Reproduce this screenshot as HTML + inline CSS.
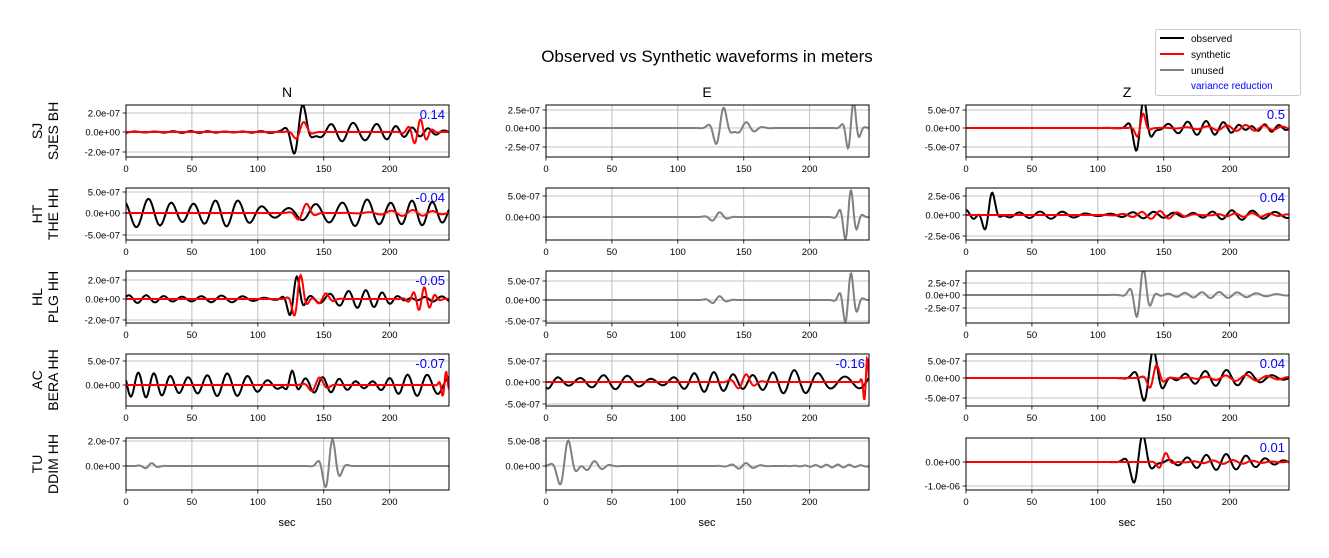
<!DOCTYPE html>
<html><head><meta charset="utf-8"><style>
body{margin:0;background:#fff;width:1329px;height:558px;overflow:hidden}
svg{display:block;font-family:"Liberation Sans","DejaVu Sans",sans-serif}
</style></head><body>
<svg id="s" width="1329" height="558" xmlns="http://www.w3.org/2000/svg">
<text x="707" y="62" font-size="17" text-anchor="middle">Observed vs Synthetic waveforms in meters</text>
<text x="287" y="97" font-size="14" text-anchor="middle">N</text>
<text x="707" y="97" font-size="14" text-anchor="middle">E</text>
<text x="1127" y="97" font-size="14" text-anchor="middle">Z</text>
<rect x="1155.5" y="29.5" width="145" height="66" rx="2" fill="#fff" stroke="#ccc"/>
<line x1="1160" y1="38" x2="1184" y2="38" stroke="#000" stroke-width="2"/>
<line x1="1160" y1="54" x2="1184" y2="54" stroke="#f00" stroke-width="2"/>
<line x1="1160" y1="70" x2="1184" y2="70" stroke="#808080" stroke-width="2"/>
<text x="1191" y="42" font-size="10">observed</text>
<text x="1191" y="58" font-size="10">synthetic</text>
<text x="1191" y="74" font-size="10">unused</text>
<text x="1191" y="89" font-size="10" fill="#00f">variance reduction</text>
<text x="287" y="526" font-size="11" text-anchor="middle">sec</text>
<text x="707" y="526" font-size="11" text-anchor="middle">sec</text>
<text x="1127" y="526" font-size="11" text-anchor="middle">sec</text>
</svg>
<script>
const S=document.getElementById('s');const NS='http://www.w3.org/2000/svg';
function el(t,a,txt){const e=document.createElementNS(NS,t);for(const k in a)e.setAttribute(k,a[k]);if(txt!=null)e.textContent=txt;S.appendChild(e);return e;}
const cols=[126,546,966],W=323,tops=[105,188,271,354,438],H=52;
const labels=[["SJ","SJES BH"],["HT","THE HH"],["HL","PLG HH"],["AC","BERA HH"],["TU","DDIM HH"]];
const P=[
 [{t:[["2.0e-07",113],["0.0e+00",132],["-2.0e-07",152]],z:132,vr:"0.14",
   s:[["k",[[60,200,14,1.5],[132,9,15,30],[170,35,16,10],[215,30,12,6]]],["r",[[133,7,15,11],[222,9,9,13]]]]},
  {t:[["2.5e-07",110],["0.0e+00",128],["-2.5e-07",147]],z:128,
   s:[["g",[[133,8,12,22],[150,12,12,6],[232,6,10,28]]]]},
  {t:[["5.0e-07",110],["0.0e+00",128],["-5.0e-07",147]],z:128,vr:"0.5",
   s:[["k",[[133,8,12,30],[180,40,14,7],[225,20,12,5]]],["r",[[133,5,11,16],[210,40,15,3]]]]}],
 [{t:[["5.0e-07",192],["0.0e+00",213],["-5.0e-07",235]],z:213,vr:"-0.04",
   s:[["k",[[120,200,19,15],[180,18,18,10]]],["r",[[135,8,14,10],[215,30,16,3]]]]},
  {t:[["5.0e-07",196],["0.0e+00",217]],z:217,
   s:[["g",[[130,8,12,5],[230,7,10,28]]]]},
  {t:[["2.5e-06",196],["0.0e+00",215],["-2.5e-06",236]],z:215,vr:"0.04",
   s:[["k",[[18,7,14,28],[140,130,16,5]]],["r",[[145,25,14,4],[215,30,14,2]]]]}],
 [{t:[["2.0e-07",280],["0.0e+00",299],["-2.0e-07",320]],z:299,vr:"-0.05",
   s:[["k",[[70,200,15,4],[128,7,12,26],[180,40,13,10]]],["r",[[131,6,11,26],[150,8,12,6],[225,10,9,12]]]]},
  {t:[["5.0e-07",281],["0.0e+00",300],["-5.0e-07",321]],z:300,
   s:[["g",[[130,8,12,4],[230,7,10,28]]]]},
  {t:[["2.5e-07",283],["0.0e+00",295],["-2.5e-07",308]],z:295,
   s:[["g",[[133,8,12,28],[190,45,14,3]]]]}],
 [{t:[["5.0e-07",361],["0.0e+00",385]],z:385,vr:"-0.07",
   s:[["k",[[120,200,14,13],[125,5,14,18]]],["r",[[145,9,14,8],[242,4,6,14]]]]},
  {t:[["5.0e-07",361],["0.0e+00",382],["-5.0e-07",404]],z:382,vr:"-0.16",
   s:[["k",[[110,200,16,12]]],["r",[[150,10,14,8],[243,3,5,26]]]]},
  {t:[["5.0e-07",361],["0.0e+00",378],["-5.0e-07",398]],z:378,vr:"0.04",
   s:[["k",[[140,11,17,30],[195,40,16,8]]],["r",[[143,7,13,14],[210,35,15,3]]]]}],
 [{t:[["2.0e-07",441],["0.0e+00",466]],z:466,
   s:[["g",[[18,7,10,3],[155,8,13,28]]]]},
  {t:[["5.0e-08",441],["0.0e+00",466]],z:466,
   s:[["g",[[15,8,14,28],[35,12,12,5],[150,12,12,3],[220,25,8,1.5]]]]},
  {t:[["0.0e+00",462],["-1.0e-06",486]],z:462,vr:"0.01",
   s:[["k",[[132,9,16,30],[195,40,14,8]]],["r",[[150,6,13,10],[200,30,14,2]]]]}]
];
const C={k:"#000",r:"#f00",g:"#808080"};
let cid=0;
for(let r=0;r<5;r++){
 const top=tops[r];
 el('text',{x:0,y:0,'font-size':14,'text-anchor':'middle',transform:`translate(42,${top+H/2}) rotate(-90)`},labels[r][0]);
 el('text',{x:0,y:0,'font-size':14,'text-anchor':'middle',transform:`translate(58,${top+H/2}) rotate(-90)`},labels[r][1]);
 for(let c=0;c<3;c++){
  const p=P[r][c],L=cols[c],sc=W/245;
  const id='c'+(cid++);
  const cp=el('clipPath',{id});const rc=document.createElementNS(NS,'rect');
  rc.setAttribute('x',L);rc.setAttribute('y',top);rc.setAttribute('width',W);rc.setAttribute('height',H);cp.appendChild(rc);
  for(let t=0;t<=200;t+=50){const x=L+t*sc;
   el('line',{x1:x,y1:top,x2:x,y2:top+H,stroke:'#b0b0b0','stroke-width':0.8});
   el('line',{x1:x,y1:top+H,x2:x,y2:top+H+3.5,stroke:'#000','stroke-width':0.8});
   el('text',{x:x,y:top+H+15,'font-size':9.5,'text-anchor':'middle'},String(t));}
  for(const [lab,y] of p.t){
   el('line',{x1:L,y1:y,x2:L+W,y2:y,stroke:'#b0b0b0','stroke-width':0.8});
   el('line',{x1:L-3.5,y1:y,x2:L,y2:y,stroke:'#000','stroke-width':0.8});
   el('text',{x:L-6,y:y+3.5,'font-size':9.5,'text-anchor':'end'},lab);}
  for(const [col,bs] of p.s){
   let d='';
   for(let t=0;t<=245;t+=0.5){
    let v=0;
    for(const [c0,hw,per,a] of bs){const u=(t-c0)/hw;
     const env=hw>=100?(0.6+0.4*Math.sin(t/17+c0)*Math.cos(t/31)):Math.exp(-u*u*1.2);
     const ph=2*Math.PI*(t-c0)/per*(1+0.08*Math.sin(t/40+r+c));
     v+=a*env*Math.sin(ph+0.6);}
    d+=(t?'L':'M')+(L+t*sc).toFixed(1)+','+(p.z-v).toFixed(1);
   }
   el('path',{d,fill:'none',stroke:C[col],'stroke-width':2,'clip-path':`url(#${id})`});
  }
  el('rect',{x:L,y:top,width:W,height:H,fill:'none',stroke:'#000','stroke-width':1});
  if(p.vr)el('text',{x:L+W-4,y:top+14,'font-size':13,'text-anchor':'end',fill:'#00f'},p.vr);
 }
}
</script>
</body></html>
